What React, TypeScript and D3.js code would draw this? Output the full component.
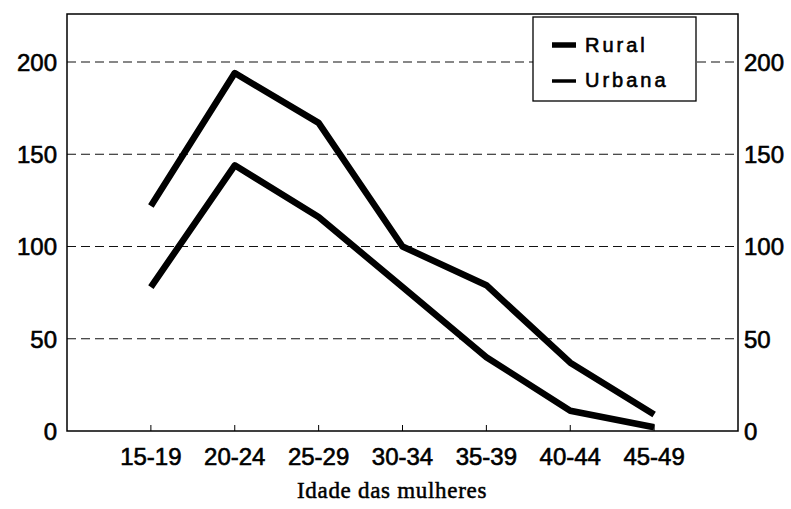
import * as d3 from 'd3'

// fertility by age group of women, rural vs urban
const ageGroups = ['15-19', '20-24', '25-29', '30-34', '35-39', '40-44', '45-49']
const rural = [122, 194, 167, 100, 79, 37, 9]
const urbana = [78, 144, 116, 78, 40, 11, 2]
const yTicks = [0, 50, 100, 150, 200]
const seriesNames = ['Rural', 'Urbana']

const W = 791
const H = 509
const left = 67
const right = 738
const top = 14
const bottom = 431

export default function App() {
  const x = d3.scalePoint<string>().domain(ageGroups).range([left, right]).padding(1)
  const y = d3.scaleLinear().domain([0, 226]).range([bottom, top])

  const line = d3.line<number>()
    .x((_, i) => x(ageGroups[i]) as number)
    .y(d => y(d))

  const sans = '"Liberation Sans", Arial, sans-serif'
  // scanned print looks a bit heavier than regular weight
  const ink = { fill: '#000', stroke: '#000', strokeWidth: 0.6 }

  return (
    <svg width={W} height={H} style={{ position: 'absolute', left: 0, top: 0, background: '#fff' }}>
      {/* grid */}
      {yTicks.filter(t => t > 0).map(t => (
        <line key={t} x1={left} x2={right} y1={y(t)} y2={y(t)}
          stroke="#111" strokeWidth={1.1} strokeDasharray="9,5" />
      ))}

      {/* x ticks */}
      {ageGroups.map(g => (
        <g key={g}>
          <line x1={x(g)} x2={x(g)} y1={bottom} y2={bottom - 6} stroke="#000" strokeWidth={1} />
          <text x={x(g)} y={465} textAnchor="middle" fontFamily={sans} fontSize={24} {...ink}>{g}</text>
        </g>
      ))}

      {/* y labels both sides */}
      {yTicks.map(t => (
        <g key={t}>
          <text x={57} y={y(t) + 9} textAnchor="end" fontFamily={sans} fontSize={24} {...ink}>{t}</text>
          <text x={744} y={y(t) + 9} textAnchor="start" fontFamily={sans} fontSize={24} {...ink}>{t}</text>
        </g>
      ))}

      {/* series */}
      <path d={line(rural) || ''} fill="none" stroke="#000" strokeWidth={6.5} strokeLinejoin="round" />
      <path d={line(urbana) || ''} fill="none" stroke="#000" strokeWidth={6.5} strokeLinejoin="round" />

      {/* frame */}
      <rect x={left} y={top} width={right - left} height={bottom - top} fill="none" stroke="#000" strokeWidth={1.5} />

      {/* legend */}
      <rect x={533} y={17} width={163} height={84} fill="#fff" stroke="#000" strokeWidth={1.3} />
      {seriesNames.map((s, i) => (
        <g key={s}>
          <line x1={552} x2={576} y1={45 + i * 36} y2={45 + i * 36} stroke="#000" strokeWidth={i === 0 ? 5.5 : 3.5} />
          <text x={585} y={52 + i * 35} fontFamily={sans} fontSize={20} letterSpacing={3} {...ink}>{s}</text>
        </g>
      ))}

      {/* x title */}
      <text x={392} y={498} textAnchor="middle" fontFamily='"Liberation Serif", "Times New Roman", serif'
        fontSize={23} letterSpacing={0.7} {...ink} strokeWidth={0.5}>Idade das mulheres</text>
    </svg>
  )
}
